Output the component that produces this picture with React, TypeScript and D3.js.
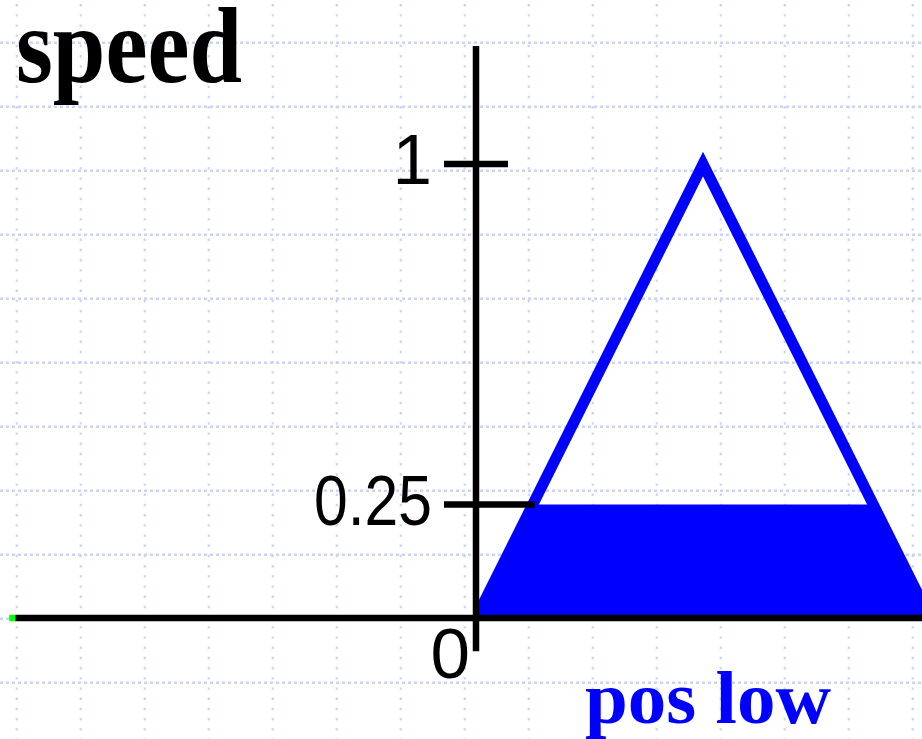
import React from "react";
import * as d3 from "d3";

// Fuzzy set "pos low" for speed: triangle corner points (x) and membership (mu)
const setName = "pos low";
const axisTitle = "speed";
const triangleX = [0, 1, 2];
const triangleMu = [0, 1, 0];
// Firing strength that cuts the set
const cutLevel = 0.25;
// Labelled membership values on the vertical axis
const yTickValues = [1, 0.25];
const yTickLabels = ["1", "0.25"];
const originLabel = "0";

const W = 922;
const H = 739;

const x = d3.scaleLinear().domain([0, 2]).range([476, 930]);
const y = d3.scaleLinear().domain([0, 1]).range([618, 164]);

// Visible extents of the axes (data units)
const xAxisExtent = [-2.03, 2.1];
const yAxisExtent = [-0.073, 1.26];

const GRID_COLOR = "#c8d4f8";
const BLUE = "#0000ff";

export default function App() {
  const triangle = triangleX.map((v, i) => [v, triangleMu[i]] as [number, number]);

  // Membership clipped at the cut level: min(mu(x), cutLevel)
  const clipped: [number, number][] = [];
  for (let i = 0; i < triangle.length - 1; i++) {
    const [x0, m0] = triangle[i];
    const [x1, m1] = triangle[i + 1];
    clipped.push([x0, Math.min(m0, cutLevel)]);
    if ((m0 - cutLevel) * (m1 - cutLevel) < 0) {
      const t = (cutLevel - m0) / (m1 - m0);
      clipped.push([x0 + t * (x1 - x0), cutLevel]);
    }
  }
  const last = triangle[triangle.length - 1];
  clipped.push([last[0], Math.min(last[1], cutLevel)]);

  const line = d3
    .line<[number, number]>()
    .x((d) => x(d[0]))
    .y((d) => y(d[1]));
  const area = d3
    .area<[number, number]>()
    .x((d) => x(d[0]))
    .y0(y(0))
    .y1((d) => y(d[1]));

  // Background dotted grid
  const gridXs = d3.range(16.7, W, 64);
  const gridYs = d3.range(42.7, H, 64);

  // Where the cut line meets the rising edge of the triangle
  const cutLeftX = triangleX[0] + cutLevel * (triangleX[1] - triangleX[0]);

  const tickHalf = 32;

  return (
    <svg
      width={W}
      height={H}
      style={{ position: "absolute", left: 0, top: 0, background: "#ffffff" }}
    >
      <defs>
        <clipPath id="plotClip">
          <rect x={x(0)} y={0} width={W - x(0)} height={y(0)} />
        </clipPath>
      </defs>
      <rect width={W} height={H} fill="#ffffff" />

      <g>
        {gridXs.map((gx) => (
          <line
            key={"gx" + gx}
            x1={gx}
            x2={gx}
            y1={0}
            y2={H}
            stroke={GRID_COLOR}
            strokeWidth={2.2}
            strokeDasharray="2.4 7.8"
            strokeDashoffset={-4}
          />
        ))}
        {gridYs.map((gy) => (
          <line
            key={"gy" + gy}
            x1={0}
            x2={W}
            y1={gy}
            y2={gy}
            stroke={GRID_COLOR}
            strokeWidth={2.4}
            strokeDasharray="3 3"
          />
        ))}
      </g>

      <g clipPath="url(#plotClip)">
        <path d={area(clipped) ?? ""} fill={BLUE} />
        <path
          d={line(triangle) ?? ""}
          fill="none"
          stroke={BLUE}
          strokeWidth={11}
          strokeLinejoin="miter"
        />
      </g>

      {/* axes */}
      <line
        x1={x(xAxisExtent[0])}
        x2={W}
        y1={y(0)}
        y2={y(0)}
        stroke="#000"
        strokeWidth={6.5}
      />
      <rect x={x(xAxisExtent[0]) - 6} y={y(0) - 3.25} width={6} height={6.5} fill="#00ff00" />
      <line
        x1={x(0)}
        x2={x(0)}
        y1={y(yAxisExtent[0])}
        y2={y(yAxisExtent[1])}
        stroke="#000"
        strokeWidth={6.5}
      />

      {/* ticks */}
      {yTickValues.map((v, i) => {
        const right = v === cutLevel ? x(cutLeftX) + 2 : x(0) + tickHalf;
        return (
          <g key={"t" + v}>
            <line
              x1={x(0) - tickHalf}
              x2={right}
              y1={y(v)}
              y2={y(v)}
              stroke="#000"
              strokeWidth={6.5}
            />
            <text
              x={x(0) - 44}
              y={y(v) + 20}
              textAnchor="end"
              fontFamily="'Liberation Sans', sans-serif"
              fontSize={71}
              fill="#000"
              textLength={yTickLabels[i].length > 1 ? 118 : undefined}
              lengthAdjust="spacingAndGlyphs"
            >
              {yTickLabels[i]}
            </text>
          </g>
        );
      })}
      <text
        x={x(0) - 6}
        y={678}
        textAnchor="end"
        fontFamily="'Liberation Sans', sans-serif"
        fontSize={71}
        fill="#000"
      >
        {originLabel}
      </text>

      {/* titles */}
      <text
        x={16}
        y={82}
        fontFamily="'Liberation Serif', serif"
        fontWeight="bold"
        fontSize={108}
        fill="#000"
        textLength={226}
        lengthAdjust="spacingAndGlyphs"
      >
        {axisTitle}
      </text>
      <text
        x={585}
        y={723}
        fontFamily="'Liberation Serif', serif"
        fontWeight="bold"
        fontSize={74}
        fill={BLUE}
        textLength={246}
        lengthAdjust="spacingAndGlyphs"
      >
        {setName}
      </text>
    </svg>
  );
}
